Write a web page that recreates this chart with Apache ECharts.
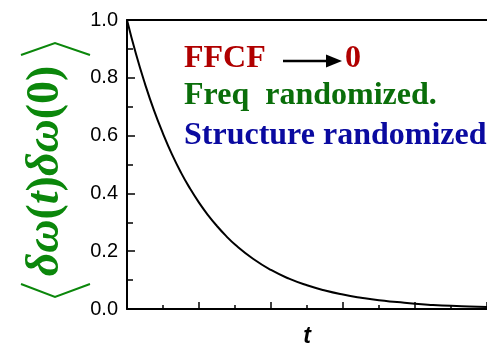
<!DOCTYPE html>
<html>
<head>
<meta charset="utf-8">
<script src="https://cdn.jsdelivr.net/npm/echarts@6/dist/echarts.min.js"></script>
<style>
  html, body { margin: 0; padding: 0; background: #fff; }
  #chart { width: 487px; height: 353px; }
</style>
</head>
<body>
<div id="chart"></div>
<script>
// Frequency-frequency correlation function decay, time in arbitrary units
const timeValues = [0, 0.125, 0.25, 0.375, 0.5, 0.625, 0.75, 0.875, 1.0, 1.125, 1.25, 1.375,
                    1.5, 1.75, 2.0, 2.25, 2.5, 2.75, 3.0, 3.25, 3.5, 3.75, 4.0, 4.25, 4.5, 4.75, 5.0];
const ffcfValues = [1.00, 0.882, 0.779, 0.687, 0.607, 0.535, 0.472, 0.417, 0.368, 0.325, 0.287, 0.253,
                    0.223, 0.174, 0.135, 0.105, 0.082, 0.064, 0.050, 0.039, 0.030, 0.024, 0.018, 0.014, 0.011, 0.009, 0.007];
const yTicks = [0.0, 0.2, 0.4, 0.6, 0.8, 1.0];
const notes = ['FFCF', '0', 'Freq  randomized.', 'Structure randomized'];

const chart = echarts.init(document.getElementById('chart'), null, { renderer: 'canvas' });

const axisLine = { show: true, lineStyle: { color: '#000', width: 2 } };
const labelGreen = '#0b870b';
const serif = '"Liberation Serif", "DejaVu Serif", serif';

chart.setOption({
  animation: false,
  backgroundColor: '#fff',
  grid: { left: 127, top: 20, bottom: 39, right: -15, containLabel: false },
  xAxis: [{
    type: 'value', min: 0, max: 5, interval: 1,
    axisLine: axisLine,
    axisTick: { show: true, inside: true, length: 7, lineStyle: { color: '#000', width: 1.5 } },
    minorTick: { show: true, splitNumber: 2, length: 4, lineStyle: { color: '#000', width: 1.5 } },
    axisLabel: { show: false },
    splitLine: { show: false },
    name: 't', nameLocation: 'middle', nameGap: 16,
    nameTextStyle: { fontFamily: 'Liberation Sans', fontWeight: 'bold', fontStyle: 'italic', fontSize: 23, color: '#000' }
  }, {
    type: 'value', position: 'top', min: 0, max: 5,
    axisLine: axisLine, axisTick: { show: false }, axisLabel: { show: false }, splitLine: { show: false }
  }],
  yAxis: {
    type: 'value', min: 0, max: 1, interval: 0.2,
    axisLine: axisLine,
    axisTick: { show: true, inside: true, length: 8, lineStyle: { color: '#000', width: 1.5 } },
    minorTick: { show: true, splitNumber: 2, length: 6, lineStyle: { color: '#000', width: 1.5 } },
    axisLabel: {
      margin: 9, fontFamily: 'Liberation Sans', fontSize: 20, color: '#000',
      formatter: v => yTicks.some(t => Math.abs(t - v) < 1e-9) ? v.toFixed(1) : ''
    },
    splitLine: { show: false },
    // correlation expression <δω(t)δω(0)>; the brackets are drawn as graphics
    name: '{i|δω}{b|(}{i|t}{b|)}{i|δω}{b|(0)}',
    nameLocation: 'middle', nameRotate: 90, nameGap: 58,
    nameTextStyle: {
      fontFamily: serif, fontWeight: 'bold', fontSize: 46, color: labelGreen,
      padding: [0, 13, 0, 0],
      rich: {
        i: { fontFamily: serif, fontStyle: 'italic', fontWeight: 'bold', fontSize: 46, lineHeight: 46, color: labelGreen },
        b: { fontFamily: serif, fontStyle: 'normal', fontWeight: 'bold', fontSize: 46, lineHeight: 46, color: labelGreen }
      }
    }
  },
  series: [{
    type: 'line',
    data: timeValues.map((t, i) => [t, ffcfValues[i]]),
    smooth: 0.5,
    showSymbol: false,
    lineStyle: { color: '#000', width: 2 }
  }],
  graphic: [
    // angle brackets around the correlation expression
    { type: 'polyline', shape: { points: [[21, 55], [55, 43], [90, 55]] },
      style: { stroke: labelGreen, lineWidth: 2, fill: null } },
    { type: 'polyline', shape: { points: [[21, 284], [55, 297], [90, 284]] },
      style: { stroke: labelGreen, lineWidth: 2, fill: null } },
    // annotations
    { type: 'text', x: 184, y: 59,
      style: { text: notes[0], font: 'bold 32px "Liberation Serif"', fill: '#b00000', verticalAlign: 'middle' } },
    { type: 'line', shape: { x1: 283, y1: 61, x2: 329, y2: 61 },
      style: { stroke: '#000', lineWidth: 2.5 } },
    { type: 'polygon', shape: { points: [[326, 54.5], [342, 61], [326, 67.5]] },
      style: { fill: '#000' } },
    { type: 'text', x: 345, y: 59,
      style: { text: notes[1], font: 'bold 32px "Liberation Serif"', fill: '#b00000', verticalAlign: 'middle' } },
    { type: 'text', x: 184, y: 96,
      style: { text: notes[2], font: 'bold 32px "Liberation Serif"', fill: '#0a6e0a', verticalAlign: 'middle' } },
    { type: 'text', x: 184, y: 136,
      style: { text: notes[3], font: 'bold 32px "Liberation Serif"', fill: '#0a0aa0', verticalAlign: 'middle' } }
  ]
});
</script>
</body>
</html>
